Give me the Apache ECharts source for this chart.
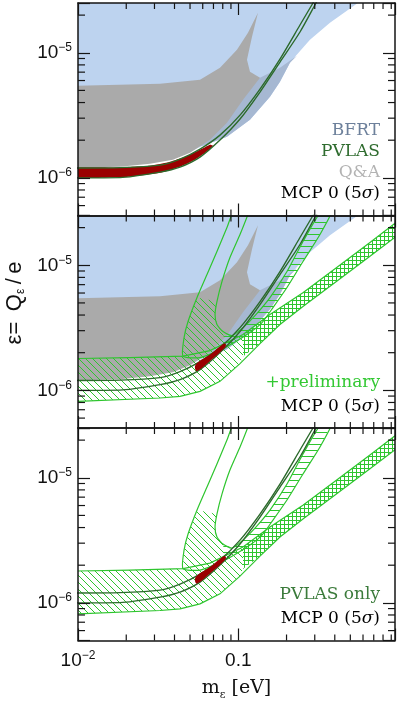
<!DOCTYPE html>
<html>
<head>
<meta charset="utf-8">
<script src="https://cdn.jsdelivr.net/npm/echarts@6.0.0/dist/echarts.min.js"></script>
<style>
html,body{margin:0;padding:0;background:#fff;}
#chart{width:399px;height:706px;}
</style>
</head>
<body>
<div id="chart"></div>
<script>
// ---------------- axis ranges & ticks ----------------
const xRange = [0.01, 0.95];
const yRange = [5e-7, 2.5e-5];
const xMajorTicks = [0.01, 0.1];
const xTickLabels = ['10^−2', '0.1'];
const yMajorTicks = [1e-6, 1e-5];
const yTickLabels = ['10^−6', '10^−5'];
const xMinorTicks = [0.02,0.03,0.04,0.05,0.06,0.07,0.08,0.09,0.2,0.3,0.4,0.5,0.6,0.7,0.8,0.9];
const yMinorTicks = [6e-7,7e-7,8e-7,9e-7,2e-6,3e-6,4e-6,5e-6,6e-6,7e-6,8e-6,9e-6,2e-5];

// ---------------- regions [m_eps (eV), eps] ----------------
const bfrtLight = [[0.009,3e-5],[0.68,3e-5],[0.3733,1.738e-5],[0.2801,1.271e-5],[0.2258,9.29e-6],[0.2101,8.32e-6],[0.182,5.86e-6],[0.1577,4.446e-6],[0.1183,2.911e-6],[0.085,2.128e-6],[0.0602,1.803e-6],[0.05,1.614e-6],[0.0325,1.837e-6],[0.009,1.8e-6]];
const bfrtDark = [[0.2324,9.46e-6],[0.182,7.59e-6],[0.1577,6.92e-6],[0.1327,6.19e-6],[0.1025,4.79e-6],[0.0769,3.37e-6],[0.0577,2.33e-6],[0.05,1.74e-6],[0.0602,1.803e-6],[0.085,2.128e-6],[0.1183,2.911e-6],[0.1577,4.446e-6],[0.182,5.86e-6],[0.2101,8.32e-6]];
const qaRegion = [[0.009,5.445e-6],[0.0325,5.65e-6],[0.0577,6.08e-6],[0.0769,7.59e-6],[0.0981,1.057e-5],[0.1149,1.445e-5],[0.1327,2.089e-5],[0.1218,1.343e-5],[0.1133,8.79e-6],[0.1183,7.05e-6],[0.1366,6.31e-6],[0.107,4.207e-6],[0.085,2.754e-6],[0.0666,2.014e-6],[0.05,1.585e-6],[0.0391,1.393e-6],[0.0281,1.294e-6],[0.0183,1.225e-6],[0.009,1.2e-6]];
const pvlasUpper = [[0.009,1.2e-6],[0.0183,1.207e-6],[0.0325,1.264e-6],[0.0433,1.412e-6],[0.0577,1.698e-6],[0.0769,2.197e-6],[0.1025,3.175e-6],[0.1366,5.128e-6],[0.182,8.91e-6],[0.2426,1.667e-5],[0.2924,2.5e-5],[0.318,3e-5]];
const pvlasLower = [[0.009,1.0e-6],[0.0183,1.004e-6],[0.0325,1.112e-6],[0.0433,1.219e-6],[0.0577,1.465e-6],[0.0769,2.004e-6],[0.1025,2.951e-6],[0.1366,4.85e-6],[0.182,8.43e-6],[0.2426,1.466e-5],[0.3053,2.5e-5],[0.33,3e-5]];
const mcpTop = [[0.009,1.2e-6],[0.0183,1.21e-6],[0.0281,1.247e-6],[0.0375,1.343e-6],[0.0465,1.472e-6],[0.0577,1.675e-6],[0.0666,1.837e-6],[0.0696,1.803e-6],[0.0647,1.644e-6],[0.0537,1.393e-6],[0.0433,1.225e-6],[0.0325,1.096e-6],[0.0211,1.019e-6],[0.009,1.0e-6]];
const mcpBlob = [[0.0536,1.52e-6],[0.0553,1.652e-6],[0.0666,1.931e-6],[0.0814,2.365e-6],[0.0838,2.32e-6],[0.0814,2.157e-6],[0.0666,1.714e-6],[0.0553,1.425e-6]];
// preliminary band (flat at small m, rising at large m)
const bandTop = [[0.009,1.794e-6],[0.0211,1.828e-6],[0.0452,1.879e-6],[0.0666,2.08e-6],[0.107,2.793e-6],[0.1577,4.04e-6],[0.2544,6.05e-6],[0.4112,9.59e-6],[0.663,1.52e-5],[1.002,2.28e-5]];
const bandBottom = [[1.002,1.762e-5],[0.663,1.18e-5],[0.4112,7.45e-6],[0.2544,4.70e-6],[0.182,3.357e-6],[0.1366,2.365e-6],[0.1025,1.637e-6],[0.0769,1.18e-6],[0.0577,9.82e-7],[0.0433,8.95e-7],[0.0325,8.69e-7],[0.009,8.13e-7]];
const bandSplit = [0.107, 1.862e-6];
// U-shaped preliminary region
const uOuterLeft = [[0.0954,2.84e-5],[0.085,2.004e-5],[0.0736,1.288e-5],[0.0638,8.43e-6],[0.0553,5.52e-6],[0.0486,3.548e-6],[0.0459,2.642e-6],[0.0452,1.879e-6]];
const uOuterBottom = [[0.0577,1.828e-6],[0.0826,2.197e-6],[0.1183,2.897e-6],[0.1406,3.48e-6]];
const uOuterRight = [[0.1646,4.59e-6],[0.2013,6.64e-6],[0.2533,1.071e-5],[0.3233,1.762e-5],[0.3898,2.84e-5]];
const uInnerRight = [[0.3376,2.84e-5],[0.2533,1.549e-5],[0.2013,8.91e-6],[0.1577,5.52e-6],[0.1271,3.96e-6],[0.107,3.175e-6]];
const uInnerBottom = [[0.0913,2.742e-6],[0.0803,2.951e-6],[0.0736,3.357e-6],[0.0716,4.04e-6]];
const uInnerLeft = [[0.0736,5.13e-6],[0.0791,7.41e-6],[0.0887,1.153e-5],[0.1025,1.762e-5],[0.1149,2.545e-5],[0.1183,2.84e-5]];

// ---------------- legends ----------------
const legendTop = ['BFRT', 'PVLAS', 'Q&A', 'MCP 0 (5σ)'];
const legendMid = ['+preliminary', 'MCP 0 (5σ)'];
const legendBot = ['PVLAS only', 'MCP 0 (5σ)'];

// ---------------- styling ----------------
const GRID_TOPS = [3, 215.5, 428];
const GRID_H = 212.5;
const FRAME = '#151515';
const C_LIGHT = '#bdd3ef', C_SLATE = '#a6b8d2', C_GRAY = '#aaaaaa', C_RED = '#9a0000';
const C_DKGREEN = '#2c6a2c', C_GREEN = '#2ec52e';

function pattern(kind) {
  const s = kind === 'cross' ? 4 : (kind === 'horiz' ? 6 : 7);
  const c = document.createElement('canvas');
  c.width = s; c.height = s;
  const ctx = c.getContext('2d');
  ctx.strokeStyle = C_GREEN; ctx.lineWidth = 1;
  ctx.beginPath();
  if (kind === 'diag') {
    for (const k of [-s, 0, s]) { ctx.moveTo(k - 1, -1); ctx.lineTo(k + s + 1, s + 1); }
  } else if (kind === 'horiz') {
    ctx.moveTo(0, 0.5); ctx.lineTo(s, 0.5);
  } else {
    ctx.moveTo(0, 0.5); ctx.lineTo(s, 0.5);
    ctx.moveTo(0.5, 0); ctx.lineTo(0.5, s);
  }
  ctx.stroke();
  return {image: c, repeat: 'repeat'};
}
const P_DIAG = pattern('diag'), P_HORIZ = pattern('horiz'), P_CROSS = pattern('cross');

function splitLabel(t) {
  const i = t.indexOf('^');
  return i < 0 ? '{b|' + t + '}' : '{b|' + t.slice(0, i) + '}{s|' + t.slice(i + 1) + '}';
}
function fmtFrom(ticks, labels) {
  return function (v) {
    for (let i = 0; i < ticks.length; i++) {
      if (Math.abs(Math.log10(v) - Math.log10(ticks[i])) < 1e-6) return splitLabel(labels[i]);
    }
    return '';
  };
}
const tickRich = {
  b: {fontFamily: 'Liberation Sans', fontSize: 19, color: '#111', lineHeight: 22},
  s: {fontFamily: 'Liberation Sans', fontSize: 12, color: '#111', lineHeight: 12, verticalAlign: 'top'}
};

const grids = [], xAxes = [], yAxes = [];
GRID_TOPS.forEach((t, g) => {
  grids.push({left: 78, top: t, width: 317, height: GRID_H});
  const common = {type: 'log', logBase: 10, gridIndex: g, z: 10,
    axisLine: {show: true, onZero: false, lineStyle: {color: FRAME, width: 1.5}},
    axisTick: {show: true, inside: true, length: 12, lineStyle: {color: FRAME, width: 1.2}},
    splitLine: {show: false}, minorTick: {show: false}};
  xAxes.push(Object.assign({}, common, {position: 'bottom', min: xRange[0], max: xRange[1],
    axisLabel: {show: g === 2, margin: 9, formatter: fmtFrom(xMajorTicks, xTickLabels), rich: tickRich},
    name: g === 2 ? '{m|m}{e|ε}{m| [eV]}' : '', nameLocation: 'middle', nameGap: 36,
    nameTextStyle: {rich: {m: {fontFamily: 'DejaVu Serif', fontSize: 19, color: '#111', lineHeight: 24},
      e: {fontFamily: 'DejaVu Serif', fontSize: 11, color: '#111', lineHeight: 12, verticalAlign: 'bottom'}}}}));
  xAxes.push(Object.assign({}, common, {position: 'top', min: xRange[0], max: xRange[1], axisLabel: {show: false}}));
  yAxes.push(Object.assign({}, common, {position: 'left', min: yRange[0], max: yRange[1],
    axisLabel: {show: true, margin: 6, formatter: fmtFrom(yMajorTicks, yTickLabels), rich: tickRich}}));
  yAxes.push(Object.assign({}, common, {position: 'right', min: yRange[0], max: yRange[1], axisLabel: {show: false}}));
});

const series = [];
function poly(g, pts, st, z) {
  series.push({type: 'custom', xAxisIndex: 2 * g, yAxisIndex: 2 * g, clip: true, silent: true, z: z,
    data: pts, encode: {x: 0, y: 1},
    renderItem: function (params, api) {
      if (params.dataIndex !== 0) return;
      const p = pts.map(q => api.coord(q));
      return {type: 'polygon', shape: {points: p, smooth: st.smooth || 0},
        style: {fill: st.fill || null, stroke: st.stroke || null, lineWidth: st.lw || 1}};
    }});
}
function line(g, pts, color, w, z) {
  series.push({type: 'line', xAxisIndex: 2 * g, yAxisIndex: 2 * g, data: pts, symbol: 'none', smooth: 0.25,
    clip: true, silent: true, z: z, lineStyle: {color: color, width: w}});
}
function ticks(g) {
  series.push({type: 'custom', xAxisIndex: 2 * g, yAxisIndex: 2 * g, clip: false, silent: true, z: 20,
    data: xMinorTicks.map(v => [v, yRange[0]]),
    renderItem: function (params, api) {
      const v = api.value(0);
      const b = api.coord([v, yRange[0]]), t = api.coord([v, yRange[1]]);
      return {type: 'group', children: [
        {type: 'line', shape: {x1: b[0], y1: b[1], x2: b[0], y2: b[1] - 6}, style: {stroke: FRAME, lineWidth: 1.2}},
        {type: 'line', shape: {x1: t[0], y1: t[1], x2: t[0], y2: t[1] + 6}, style: {stroke: FRAME, lineWidth: 1.2}}]};
    }});
  series.push({type: 'custom', xAxisIndex: 2 * g, yAxisIndex: 2 * g, clip: false, silent: true, z: 20,
    data: yMinorTicks.map(v => [xRange[0], v]),
    renderItem: function (params, api) {
      const v = api.value(1);
      const l = api.coord([xRange[0], v]), r = api.coord([xRange[1], v]);
      return {type: 'group', children: [
        {type: 'line', shape: {x1: l[0], y1: l[1], x2: l[0] + 7, y2: l[1]}, style: {stroke: FRAME, lineWidth: 1.2}},
        {type: 'line', shape: {x1: r[0], y1: r[1], x2: r[0] - 7, y2: r[1]}, style: {stroke: FRAME, lineWidth: 1.2}}]};
    }});
}

// composite outlines assembled from the arrays above
const band = bandTop.concat(bandBottom);
const bandLeft = bandTop.slice(0, 5).concat([bandSplit], bandBottom.slice(6));
const bandRight = bandTop.slice(4).concat(bandBottom.slice(0, 6), [bandSplit]);
const uRegionFull = uOuterLeft.concat(uOuterBottom, uOuterRight, uInnerRight, uInnerBottom, uInnerLeft);
const uLowLeft = uOuterLeft.slice(4).concat(uOuterBottom.slice(0, 2), uInnerBottom.slice(1), [uInnerLeft[0]]);
const uRight = uOuterBottom.slice(1).concat(uOuterRight, uInnerRight, uInnerBottom.slice(0, 2));

// top panel
poly(0, bfrtLight, {fill: C_LIGHT}, 2);
poly(0, bfrtDark, {fill: C_SLATE}, 3);
poly(0, qaRegion, {fill: C_GRAY}, 4);
poly(0, mcpTop, {fill: C_RED, smooth: 0.15}, 6);
line(0, pvlasUpper, C_DKGREEN, 1.4, 7);
line(0, pvlasLower, C_DKGREEN, 1.4, 7);
// middle panel backgrounds
poly(1, bfrtLight, {fill: C_LIGHT}, 2);
poly(1, bfrtDark, {fill: C_SLATE}, 3);
poly(1, qaRegion, {fill: C_GRAY}, 4);
[1, 2].forEach(g => {
  poly(g, bandLeft, {fill: P_DIAG}, 5);
  poly(g, bandRight, {fill: P_CROSS}, 5);
  poly(g, band, {stroke: C_GREEN, lw: 1.2}, 5);
  poly(g, uLowLeft, {fill: P_DIAG}, 5);
  poly(g, uRight, {fill: P_HORIZ}, 5);
  poly(g, uRegionFull, {stroke: C_GREEN, lw: 1.2, smooth: 0.2}, 5);
  line(g, pvlasUpper, C_DKGREEN, 1.4, 7);
  line(g, pvlasLower, C_DKGREEN, 1.4, 7);
  poly(g, mcpBlob, {fill: C_RED, smooth: 0.4}, 8);
});
[0, 1, 2].forEach(ticks);

// texts
const serif = '"DejaVu Serif", "Liberation Serif", serif';
const graphics = [];
function legendText(txt, y, color) {
  const sig = txt.indexOf('σ');
  const rich = sig < 0 ? '{r|' + txt + '}' : '{r|' + txt.slice(0, sig) + '}{i|σ}{r|' + txt.slice(sig + 1) + '}';
  graphics.push({type: 'text', x: 380, y: y, z: 30, style: {text: rich, align: 'right', verticalAlign: 'middle',
    rich: {r: {fontFamily: serif, fontSize: 17, fill: color}, i: {fontFamily: serif, fontSize: 17, fontStyle: 'italic', fill: color}}}});
}
const legendColorsTop = ['#6d809b', '#2f6c2f', '#b3b3b3', '#000'];
legendTop.forEach((t, i) => legendText(t, [130.5, 151.7, 172.5, 194][i], legendColorsTop[i]));
legendText(legendMid[0], 383, '#33c833');
legendText(legendMid[1], 406.5, '#000');
legendText(legendBot[0], 595, '#3b7b3b');
legendText(legendBot[1], 618.5, '#000');
graphics.push({type: 'text', x: 15, y: 303, rotation: Math.PI / 2, z: 30,
  style: {text: '{a|ε=\u2009 Q}{s|ε}{a|\u2009/\u2009e}', align: 'center', verticalAlign: 'middle',
    rich: {a: {fontFamily: 'Liberation Sans', fontSize: 22, fill: '#111', lineHeight: 24},
      s: {fontFamily: 'Liberation Sans', fontSize: 12, fill: '#111', lineHeight: 12, verticalAlign: 'bottom'}}}});

const chart = echarts.init(document.getElementById('chart'), null, {renderer: 'canvas'});
chart.setOption({
  animation: false,
  backgroundColor: '#fff',
  grid: grids,
  xAxis: xAxes,
  yAxis: yAxes,
  series: series,
  graphic: graphics
});
</script>
</body>
</html>
